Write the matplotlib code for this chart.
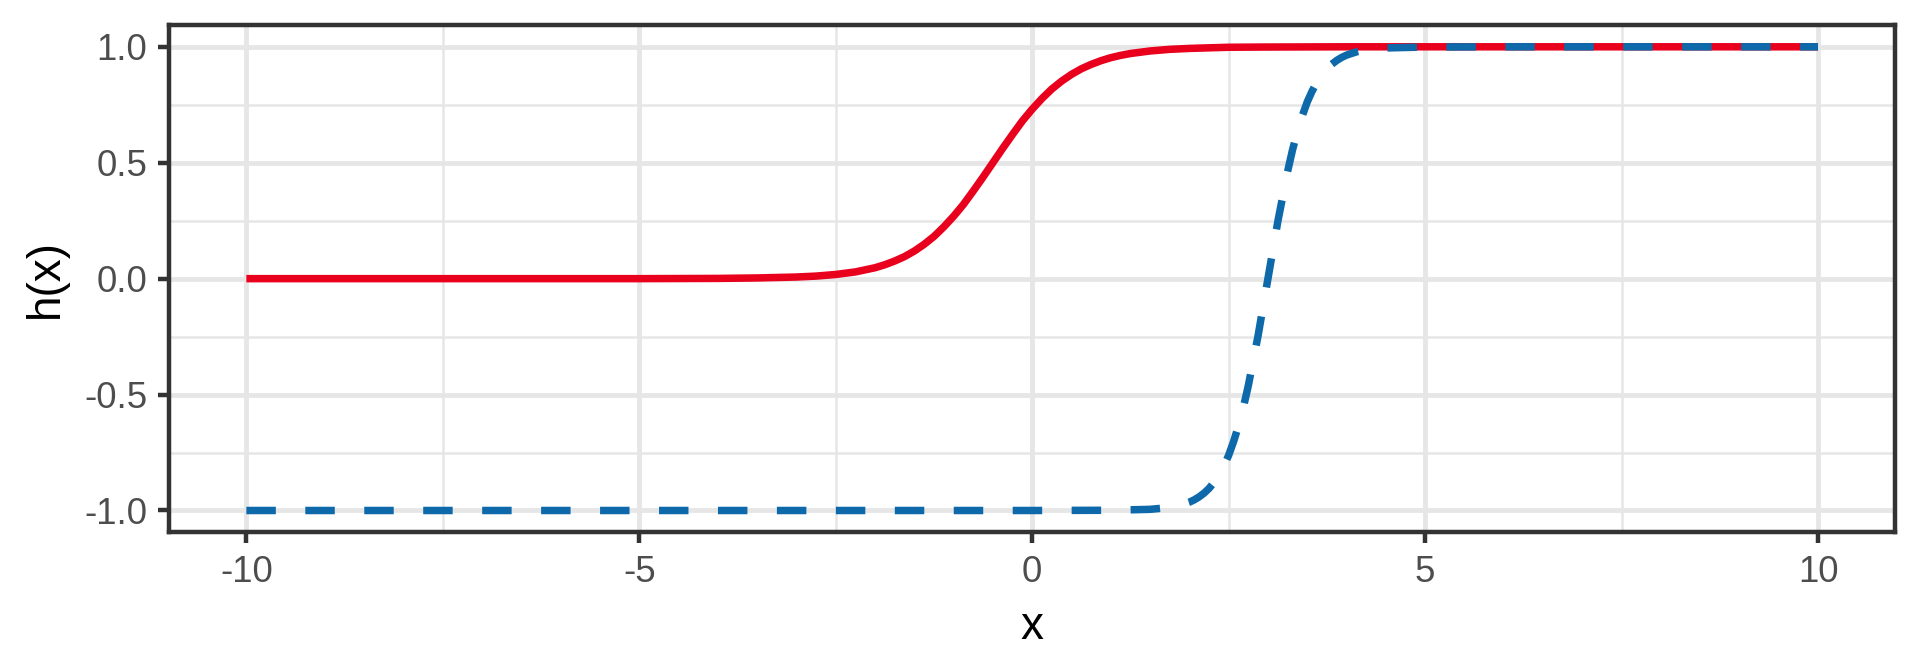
import matplotlib
matplotlib.use('Agg')
import matplotlib.pyplot as plt

plt.rcParams['font.family'] = ['Liberation Sans', 'DejaVu Sans']
plt.rcParams['axes.unicode_minus'] = False

# values
red_x = [-10, -6, -5, -4, -3.5, -3, -2.75, -2.5, -2.25, -2, -1.875, -1.75,
         -1.625, -1.5, -1.375, -1.25, -1.125, -1, -0.875, -0.75, -0.625, -0.5,
         -0.375, -0.25, -0.125, 0, 0.125, 0.25, 0.375, 0.5, 0.625, 0.75,
         0.875, 1, 1.125, 1.25, 1.5, 1.75, 2, 2.5, 3, 4, 5, 10]
red_y = [0.0, 0.0, 0.0, 0.001, 0.003, 0.007, 0.011, 0.018, 0.029, 0.047,
         0.060, 0.076, 0.095, 0.119, 0.148, 0.182, 0.223, 0.269, 0.320, 0.378,
         0.438, 0.5, 0.562, 0.622, 0.680, 0.731, 0.777, 0.818, 0.852, 0.881,
         0.905, 0.924, 0.940, 0.953, 0.963, 0.971, 0.982, 0.989, 0.993,
         0.998, 0.999, 1.0, 1.0, 1.0]

blue_x = [-10, -5, 0, 1, 1.5, 1.75, 1.875, 2, 2.0625, 2.125, 2.1875, 2.25,
          2.3125, 2.375, 2.4375, 2.5, 2.5625, 2.625, 2.6875, 2.75, 2.875, 3,
          3.125, 3.25, 3.3125, 3.375, 3.4375, 3.5, 3.5625, 3.625, 3.6875,
          3.75, 3.8125, 3.875, 3.9375, 4, 4.125, 4.25, 4.5, 5, 6, 10]
blue_y = [-1.0, -1.0, -1.0, -0.999, -0.995, -0.987, -0.978, -0.964, -0.954,
          -0.941, -0.925, -0.905, -0.879, -0.848, -0.809, -0.762, -0.703,
          -0.635, -0.555, -0.462, -0.245, 0.0, 0.245, 0.462, 0.555, 0.635,
          0.703, 0.762, 0.809, 0.848, 0.879, 0.905, 0.925, 0.941, 0.954,
          0.964, 0.978, 0.987, 0.995, 0.999, 1.0, 1.0]

x_ticks = [-10, -5, 0, 5, 10]
y_ticks = [-1.0, -0.5, 0.0, 0.5, 1.0]
y_labels = ['-1.0', '-0.5', '0.0', '0.5', '1.0']


def main():
    fig = plt.figure(figsize=(6.4, 2.24), dpi=300)
    ax = fig.add_subplot(111)
    fig.subplots_adjust(left=0.0882, right=0.987, top=0.9628, bottom=0.2079)

    # ggplot theme_bw 風
    ax.set_axisbelow(True)
    ax.set_xticks([-7.5, -2.5, 2.5, 7.5], minor=True)
    ax.set_yticks([-0.75, -0.25, 0.25, 0.75], minor=True)
    ax.grid(which='major', color='#E6E6E6', linewidth=1.15)
    ax.grid(which='minor', color='#E6E6E6', linewidth=0.6)
    for s in ax.spines.values():
        s.set_color('#333333')
        s.set_linewidth(1.07)

    ax.plot(red_x, red_y, color='#E8001D', linewidth=1.8,
            solid_capstyle='butt', solid_joinstyle='round')
    ax.plot(blue_x, blue_y, color='#0E69AA', linewidth=1.8,
            linestyle=(0, (3.93, 3.93)), dash_capstyle='butt',
            dash_joinstyle='round')

    ax.set_xlim(-10.98, 10.98)
    ax.set_ylim(-1.094, 1.094)
    ax.set_xticks(x_ticks)
    ax.set_xticklabels([str(t) for t in x_ticks])
    ax.set_yticks(y_ticks)
    ax.set_yticklabels(y_labels)
    ax.tick_params(which='major', length=2.75, width=1.07, color='#333333',
                   labelsize=8.8, labelcolor='#4D4D4D', pad=2.6)
    ax.tick_params(which='minor', length=0)

    ax.set_xlabel('x', fontsize=11, color='black', labelpad=3.6)
    ax.set_ylabel('h(x)', fontsize=11, color='black', labelpad=3.9)

    plt.savefig('out.png', dpi=300)
    plt.close()


if __name__ == "__main__":
    main()
